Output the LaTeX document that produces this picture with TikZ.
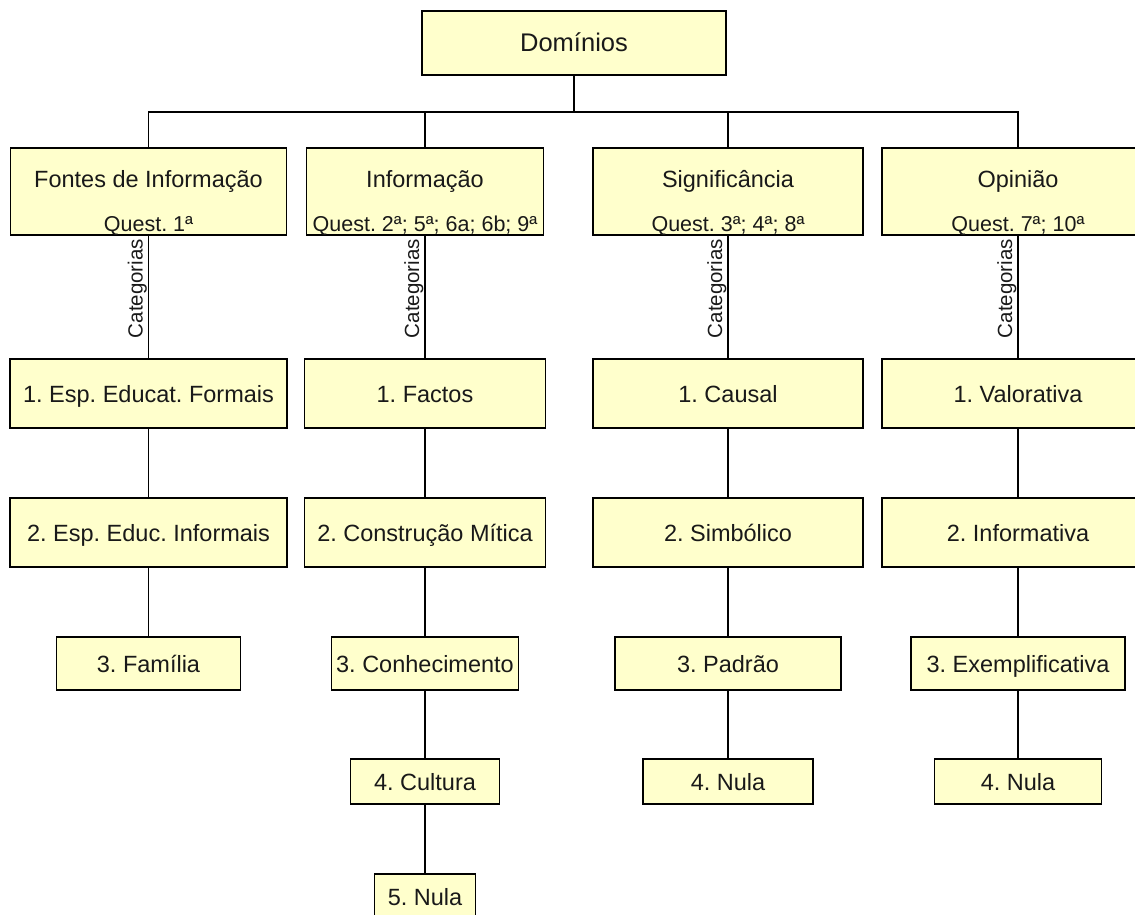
\documentclass[tikz,border=0pt]{standalone}
\usepackage{fontspec}
\setmainfont{Liberation Sans}
\frenchspacing

\begin{document}
\begin{tikzpicture}[x=1pt,y=-1pt,
  box/.style={draw=col_line, line width=1.6pt, fill=col_box, inner sep=0pt,
    text=col_text, font=\fontsize{23.5}{28}\selectfont, text height=17pt, text depth=0pt},
  title/.style={inner sep=0pt, text=col_text, font=\fontsize{23.5}{28}\selectfont,
    text height=17pt, text depth=0pt},
  quest/.style={inner sep=0pt, text=col_text, font=\fontsize{21.5}{25}\selectfont,
    text height=15pt, text depth=0pt},
  catlab/.style={inner sep=0pt, rotate=90, anchor=base east, text=col_text,
    font=\fontsize{20.5}{24}\selectfont},
  link/.style={draw=col_line, line width=1.6pt}]
%
\definecolor{col_box}{rgb}{1.0,1.0,0.8}
\definecolor{col_line}{rgb}{0.0,0.0,0.0}
\definecolor{col_text}{rgb}{0.1,0.1,0.1}
%
\useasboundingbox (0,0) rectangle (1135,915);
\clip (0,0) rectangle (1135,915);
%
% dominios
\node[box, minimum width=304pt, minimum height=64pt, font=\fontsize{25.5}{30}\selectfont,
  text height=18pt] (d0) at (574,43) {Domínios};
\node[box, minimum width=276pt, minimum height=87pt] (f0) at (148.5,191.5) {};
\node[box, minimum width=237pt, minimum height=87pt] (i0) at (425,191.5) {};
\node[box, minimum width=270pt, minimum height=87pt] (s0) at (728,191.5) {};
\node[box, minimum width=272pt, minimum height=87pt] (o0) at (1018,191.5) {};
%
\node[title] (f0t) at ([yshift=12.5pt]f0.center) {Fontes de Informação};
\node[quest] (f0q) at ([yshift=-32.5pt]f0.center) {Quest. 1ª};
\node[title] (i0t) at ([yshift=12.5pt]i0.center) {Informação};
\node[quest] (i0q) at ([yshift=-32.5pt]i0.center) {Quest. 2ª; 5ª; 6a; 6b; 9ª};
\node[title] (s0t) at ([yshift=12.5pt]s0.center) {Significância};
\node[quest] (s0q) at ([yshift=-32.5pt]s0.center) {Quest. 3ª; 4ª; 8ª};
\node[title] (o0t) at ([yshift=12.5pt]o0.center) {Opinião};
\node[quest] (o0q) at ([yshift=-32.5pt]o0.center) {Quest. 7ª; 10ª};
%
% categorias
\node[box, minimum width=277pt, minimum height=69pt] (f1) at (148.5,393.5) {1. Esp. Educat. Formais};
\node[box, minimum width=277pt, minimum height=69pt] (f2) at (148.5,532.5) {2. Esp. Educ. Informais};
\node[box, minimum width=184pt, minimum height=53pt] (f3) at (148.5,663.5) {3. Família};
%
\node[box, minimum width=241pt, minimum height=69pt] (i1) at (425,393.5) {1. Factos};
\node[box, minimum width=241pt, minimum height=69pt] (i2) at (425,532.5) {2. Construção Mítica};
\node[box, minimum width=187pt, minimum height=53pt] (i3) at (425,663.5) {3. Conhecimento};
\node[box, minimum width=149pt, minimum height=45pt] (i4) at (425,781.5) {4. Cultura};
\node[box, minimum width=101pt, minimum height=45pt] (i5) at (425,896.5) {5. Nula};
%
\node[box, minimum width=270pt, minimum height=69pt] (s1) at (728,393.5) {1. Causal};
\node[box, minimum width=270pt, minimum height=69pt] (s2) at (728,532.5) {2. Simbólico};
\node[box, minimum width=226pt, minimum height=53pt] (s3) at (728,663.5) {3. Padrão};
\node[box, minimum width=170pt, minimum height=45pt] (s4) at (728,781.5) {4. Nula};
%
\node[box, minimum width=272pt, minimum height=69pt] (o1) at (1018,393.5) {1. Valorativa};
\node[box, minimum width=272pt, minimum height=69pt] (o2) at (1018,532.5) {2. Informativa};
\node[box, minimum width=214pt, minimum height=53pt] (o3) at (1018,663.5) {3. Exemplificativa};
\node[box, minimum width=167pt, minimum height=45pt] (o4) at (1018,781.5) {4. Nula};
%
% ligacoes
\coordinate (bus) at (570,112);
\draw[link] (d0) -- (d0 |- bus);
\draw[link] (f0) |- (bus) -| (o0);
\draw[link] (i0) -- (i0 |- bus);
\draw[link] (s0) -- (s0 |- bus);
%
\draw[link] (f0) -- (f1);
\draw[link] (f1) -- (f2);
\draw[link] (f2) -- (f3);
\draw[link] (i0) -- (i1);
\draw[link] (i1) -- (i2);
\draw[link] (i2) -- (i3);
\draw[link] (i3) -- (i4);
\draw[link] (i4) -- (i5);
\draw[link] (s0) -- (s1);
\draw[link] (s1) -- (s2);
\draw[link] (s2) -- (s3);
\draw[link] (s3) -- (s4);
\draw[link] (o0) -- (o1);
\draw[link] (o1) -- (o2);
\draw[link] (o2) -- (o3);
\draw[link] (o3) -- (o4);
%
\node[catlab] (f0c) at ([xshift=-6pt,yshift=-3pt]f0.south) {Categorias};
\node[catlab] (i0c) at ([xshift=-6pt,yshift=-3pt]i0.south) {Categorias};
\node[catlab] (s0c) at ([xshift=-6pt,yshift=-3pt]s0.south) {Categorias};
\node[catlab] (o0c) at ([xshift=-6pt,yshift=-3pt]o0.south) {Categorias};
%
\end{tikzpicture}
\end{document}
